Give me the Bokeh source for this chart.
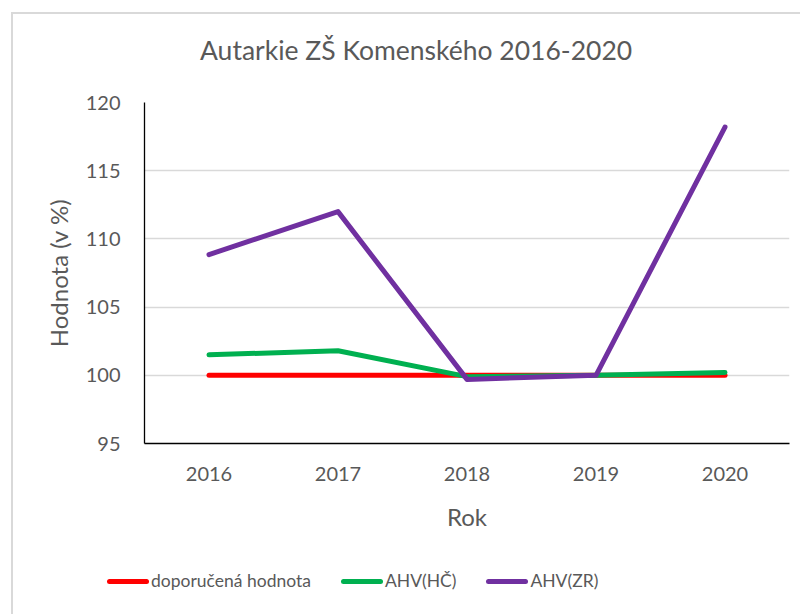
from bokeh.plotting import figure
from bokeh.layouts import column
from bokeh.models import Range1d, FactorRange, FixedTicker, Div
from bokeh.embed import file_html
from bokeh.resources import INLINE

years = ["2016", "2017", "2018", "2019", "2020"]
doporucena = [100.0, 100.0, 100.0, 100.0, 100.0]
ahv_hc = [101.5, 101.8, 99.9, 100.0, 100.2]
ahv_zr = [108.85, 112.0, 99.7, 100.0, 118.2]
series_names = ["doporučená hodnota", "AHV(HČ)", "AHV(ZR)"]
series_colors = ["#FF0000", "#00B050", "#7030A0"]
y_ticks = [95, 100, 105, 110, 115, 120]
title_text = "Autarkie ZŠ Komenského 2016-2020"

FONT = "Lato"
TXT = "#595959"
LW = 5
W = 787

title_div = Div(
    text=f'<div style="font-family:{FONT};font-size:26.5px;line-height:32px;color:{TXT};'
         f'padding-left:187px;padding-top:20px;white-space:nowrap">{title_text}</div>',
    width=W, height=60, margin=0,
)

p = figure(
    width=W, height=470,
    x_range=FactorRange(*years, range_padding=0),
    y_range=Range1d(95, 120),
    output_backend="svg", toolbar_location=None,
    min_border_left=131, min_border_right=11,
    min_border_top=28, min_border_bottom=101,
)

p.outline_line_color = None
p.xgrid.grid_line_color = None
p.ygrid.grid_line_color = "#d9d9d9"
p.ygrid.grid_line_width = 1.3
p.yaxis.ticker = FixedTicker(ticks=y_ticks)

for ax in (p.xaxis[0], p.yaxis[0]):
    ax.axis_line_color = "#000000"
    ax.axis_line_width = 1.3
    ax.major_tick_line_color = None
    ax.minor_tick_line_color = None
    ax.major_label_text_font = FONT
    ax.major_label_text_font_size = "20px"
    ax.major_label_text_color = TXT
    ax.axis_label_text_font = FONT
    ax.axis_label_text_font_size = "24px"
    ax.axis_label_text_font_style = "normal"
    ax.axis_label_text_color = TXT

p.xaxis.axis_label = "Rok"
p.yaxis.axis_label = "Hodnota (v %)"
p.yaxis.major_label_standoff = 18
p.xaxis.major_label_standoff = 17
p.yaxis.axis_label_standoff = 10
p.xaxis.axis_label_standoff = 18

series = [doporucena, ahv_hc, ahv_zr]
for vals, col in zip(series, series_colors):
    p.line(years, vals, line_color=col, line_width=LW, line_cap="round", line_join="round")

legend_items = "".join(
    f'<span style="display:inline-block;width:42px;height:{LW}px;border-radius:3px;background:{c};"></span>'
    f'<span style="margin-left:2px;margin-right:30px;">{n}</span>'
    for n, c in zip(series_names, series_colors)
)
legend_div = Div(
    text=f'<div style="display:flex;align-items:center;padding-left:94px;padding-top:26px;'
         f'font-family:{FONT};font-size:17.5px;line-height:22px;color:{TXT};white-space:nowrap">'
         f'{legend_items}</div>',
    width=W, height=70, margin=0,
)

layout = column(title_div, p, legend_div, spacing=0)
layout.styles = {"border-left": "2px solid #d9d9d9", "border-top": "2px solid #d9d9d9",
                 "margin-left": "11px", "margin-top": "12px"}

open("out.html", "w").write(file_html(layout, INLINE))
